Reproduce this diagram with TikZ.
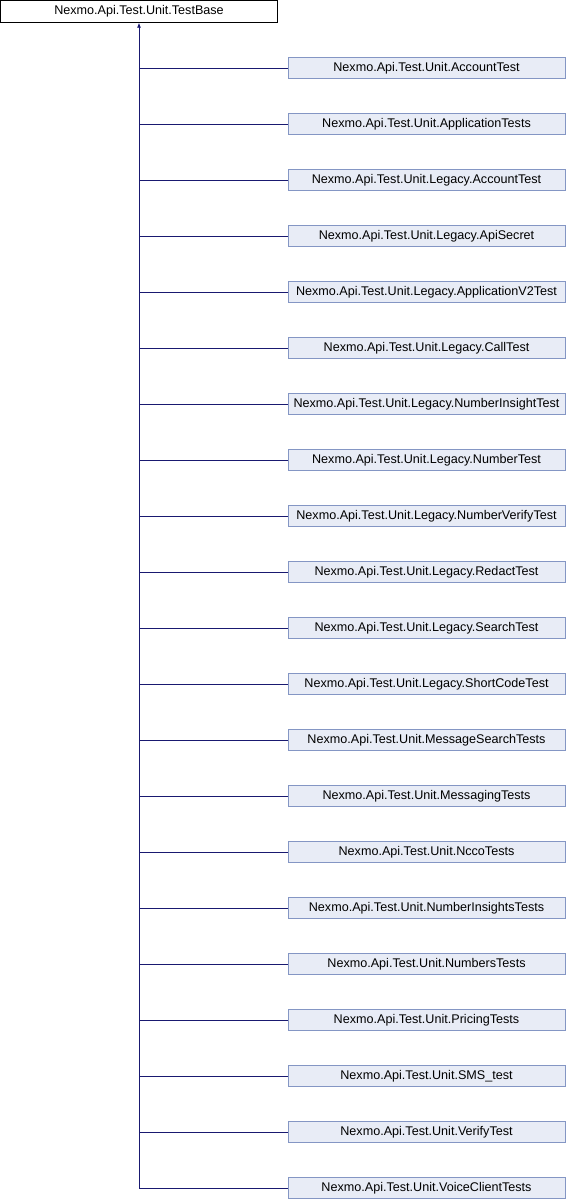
\documentclass[tikz,border=0pt]{standalone}
\usepackage{fontspec}
\setmainfont{Liberation Sans}
\usetikzlibrary{arrows.meta}
\definecolor{boxfill}{RGB}{232,236,246}
\definecolor{boxline}{RGB}{132,150,196}
\definecolor{edgeblue}{RGB}{25,25,112}
\begin{document}
\begin{tikzpicture}[x=1pt,y=-1pt,
        base/.style={rectangle, draw=black, fill=white, minimum width=277pt, minimum height=22pt, inner sep=0pt, font=\fontsize{12.6}{14}\selectfont},
        child/.style={rectangle, draw=boxline, fill=boxfill, minimum width=277pt, minimum height=21pt, inner sep=0pt, font=\fontsize{12.6}{14}\selectfont},
        edge/.style={draw=edgeblue, line width=0.8pt}
    ]
    \useasboundingbox (0,0) rectangle (566,1200);
    \node[base] (testbase) at (139,11.5) {Nexmo.Api.Test.Unit.TestBase};
    % derived test classes
    \foreach \name [count=\i] in {AccountTest, ApplicationTests, Legacy.AccountTest, Legacy.ApiSecret,
        Legacy.ApplicationV2Test, Legacy.CallTest, Legacy.NumberInsightTest, Legacy.NumberTest,
        Legacy.NumberVerifyTest, Legacy.RedactTest, Legacy.SearchTest, Legacy.ShortCodeTest,
        MessageSearchTests, MessagingTests, NccoTests, NumberInsightsTests, NumbersTests,
        PricingTests, SMS\_test, VerifyTest, VoiceClientTests}{
        \node[child] (c\i) at (426.5,{68+56*(\i-1)}) {Nexmo.Api.Test.Unit.\name};
        \draw[edge] (c\i.west) -- (c\i.west -| testbase.south);
    }
    \draw[edge, -{Latex[length=5pt,width=4pt]}] (c21.west -| testbase.south) -- (testbase.south);
\end{tikzpicture}
\end{document}
